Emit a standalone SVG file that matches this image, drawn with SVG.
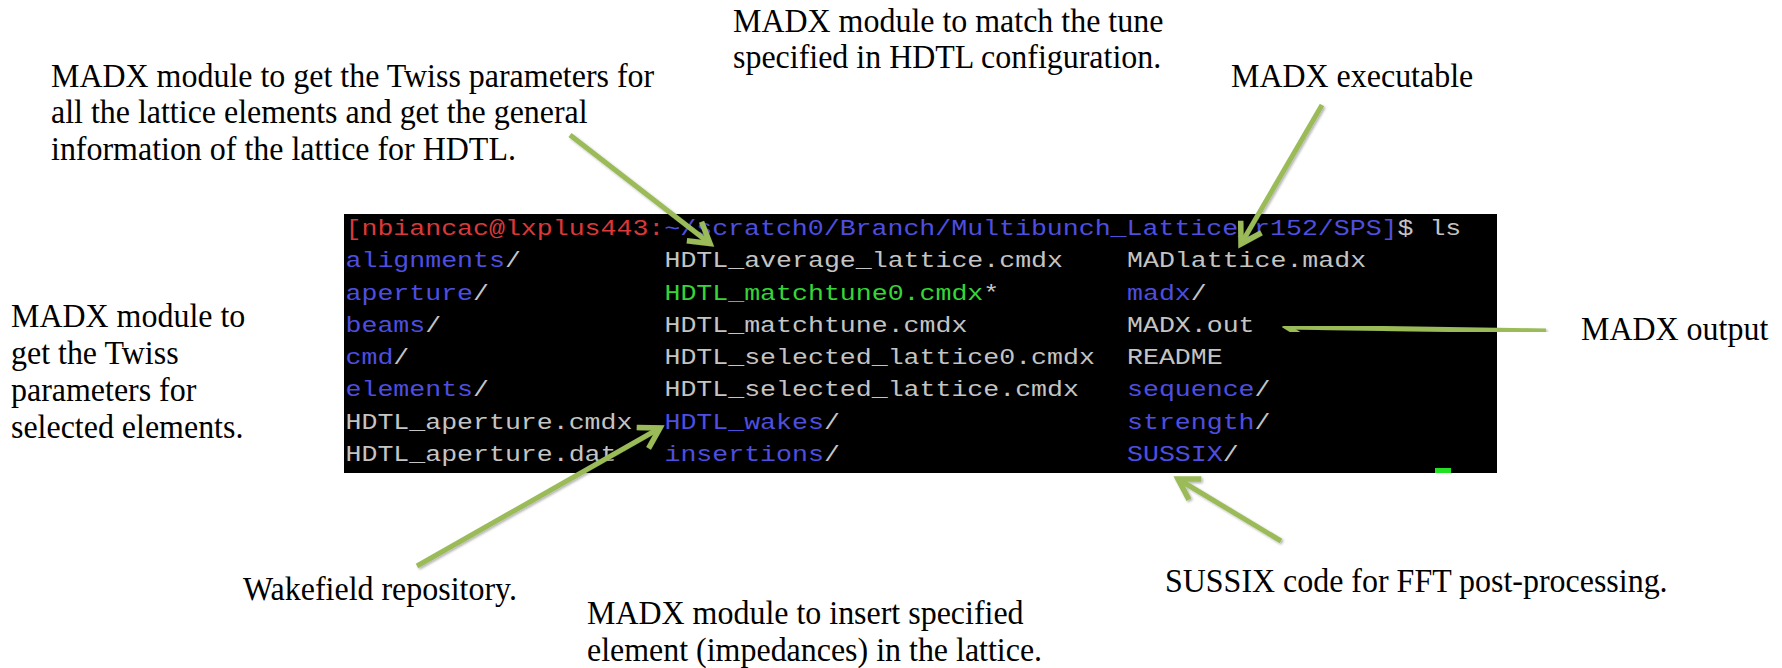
<svg xmlns="http://www.w3.org/2000/svg" width="1782" height="668" viewBox="0 0 1782 668">
  <style>
    .lbl { font-family: "Liberation Serif", "Times New Roman", serif; font-size: 34px; fill: #000; }
    .term { font-family: "Liberation Mono", "Courier New", monospace; font-size: 21.5px; }
    .g { fill: #c4c4c4; }
    .b { fill: #4e4ee0; }
    .r { fill: #dc3838; }
    .ex { fill: #36d636; }
    .arrow { fill: none; stroke: #9bbb59; stroke-width: 5; marker-end: url(#head); filter: url(#shade); }
  </style>
  <defs>
    <marker id="head" markerUnits="userSpaceOnUse" markerWidth="44" markerHeight="44" refX="0" refY="0" viewBox="-32 -22 44 44" orient="auto">
      <path d="M-20,-12 L0,0 L-20,12" fill="none" stroke="#9bbb59" stroke-width="5.5" stroke-linejoin="miter"/>
    </marker>
    <filter id="shade" x="-10%" y="-10%" width="120%" height="120%">
      <feDropShadow dx="1.5" dy="1.5" stdDeviation="1" flood-color="#000" flood-opacity="0.3"/>
    </filter>
  </defs>
  <rect width="1782" height="668" fill="#fff"/>

  <!-- terminal listing -->
  <g id="terminal">
    <rect x="344" y="214" width="1153" height="259" fill="#000"/>
    <g class="term" transform="translate(345.5 0) scale(1.2364 1)">
      <text x="0" y="235"><tspan class="r">[nbiancac@lxplus443:</tspan><tspan class="b">~/scratch0/Branch/Multibunch_Lattice_r152/SPS]</tspan><tspan class="g">$ ls</tspan></text>

      <text x="0" y="267.3"><tspan class="b">alignments</tspan><tspan class="g">/</tspan></text>
      <text x="0" y="299.6"><tspan class="b">aperture</tspan><tspan class="g">/</tspan></text>
      <text x="0" y="331.9"><tspan class="b">beams</tspan><tspan class="g">/</tspan></text>
      <text x="0" y="364.2"><tspan class="b">cmd</tspan><tspan class="g">/</tspan></text>
      <text x="0" y="396.5"><tspan class="b">elements</tspan><tspan class="g">/</tspan></text>
      <text x="0" y="428.8" class="g">HDTL_aperture.cmdx</text>
      <text x="0" y="461.1" class="g">HDTL_aperture.dat</text>

      <text x="258" y="267.3" class="g">HDTL_average_lattice.cmdx</text>
      <text x="258" y="299.6"><tspan class="ex">HDTL_matchtune0.cmdx</tspan><tspan class="g">*</tspan></text>
      <text x="258" y="331.9" class="g">HDTL_matchtune.cmdx</text>
      <text x="258" y="364.2" class="g">HDTL_selected_lattice0.cmdx</text>
      <text x="258" y="396.5" class="g">HDTL_selected_lattice.cmdx</text>
      <text x="258" y="428.8"><tspan class="b">HDTL_wakes</tspan><tspan class="g">/</tspan></text>
      <text x="258" y="461.1"><tspan class="b">insertions</tspan><tspan class="g">/</tspan></text>

      <text x="632.1" y="267.3" class="g">MADlattice.madx</text>
      <text x="632.1" y="299.6"><tspan class="b">madx</tspan><tspan class="g">/</tspan></text>
      <text x="632.1" y="331.9" class="g">MADX.out</text>
      <text x="632.1" y="364.2" class="g">README</text>
      <text x="632.1" y="396.5"><tspan class="b">sequence</tspan><tspan class="g">/</tspan></text>
      <text x="632.1" y="428.8"><tspan class="b">strength</tspan><tspan class="g">/</tspan></text>
      <text x="632.1" y="461.1"><tspan class="b">SUSSIX</tspan><tspan class="g">/</tspan></text>
    </g>
    <rect x="1435" y="468" width="16" height="5" fill="#22e022"/>
  </g>

  <!-- annotations (serif labels, slightly condensed) -->
  <g id="note-average" transform="translate(51 0) scale(0.94 1)">
    <text class="lbl" x="0" y="87">MADX module to get the Twiss parameters for</text>
    <text class="lbl" x="0" y="123.5">all the lattice elements and get the general</text>
    <text class="lbl" x="0" y="160">information of the lattice for HDTL.</text>
  </g>
  <g id="note-matchtune" transform="translate(733 0) scale(0.94 1)">
    <text class="lbl" x="0" y="32">MADX module to match the tune</text>
    <text class="lbl" x="0" y="68.5">specified in HDTL configuration.</text>
  </g>
  <g id="note-executable" transform="translate(1231 0) scale(0.94 1)">
    <text class="lbl" x="0" y="87">MADX executable</text>
  </g>
  <g id="note-output" transform="translate(1581 0) scale(0.94 1)">
    <text class="lbl" x="0" y="340">MADX output</text>
  </g>
  <g id="note-selected" transform="translate(11 0) scale(0.94 1)">
    <text class="lbl" x="0" y="327">MADX module to</text>
    <text class="lbl" x="0" y="364">get the Twiss</text>
    <text class="lbl" x="0" y="401">parameters for</text>
    <text class="lbl" x="0" y="438">selected elements.</text>
  </g>
  <g id="note-wakes" transform="translate(243 0) scale(0.94 1)">
    <text class="lbl" x="0" y="600">Wakefield repository.</text>
  </g>
  <g id="note-insertions" transform="translate(587 0) scale(0.94 1)">
    <text class="lbl" x="0" y="624">MADX module to insert specified</text>
    <text class="lbl" x="0" y="661">element (impedances) in the lattice.</text>
  </g>
  <g id="note-sussix" transform="translate(1165 0) scale(0.94 1)">
    <text class="lbl" x="0" y="592">SUSSIX code for FFT post-processing.</text>
  </g>

  <!-- connectors -->
  <g id="connectors">
    <line class="arrow" x1="570" y1="135" x2="710" y2="243.5"/>
    <line class="arrow" x1="937" y1="105" x2="937" y2="285"/>
    <line class="arrow" x1="1322" y1="105" x2="1241" y2="244"/>
    <line class="arrow" x1="1546" y1="331" x2="1287" y2="327"/>
    <line class="arrow" x1="229" y1="376.5" x2="661" y2="376.5"/>
    <line class="arrow" x1="417" y1="566" x2="660" y2="428"/>
    <line class="arrow" x1="812" y1="566" x2="812" y2="477"/>
    <line class="arrow" x1="1281" y1="541" x2="1178" y2="479"/>
  </g>
</svg>
